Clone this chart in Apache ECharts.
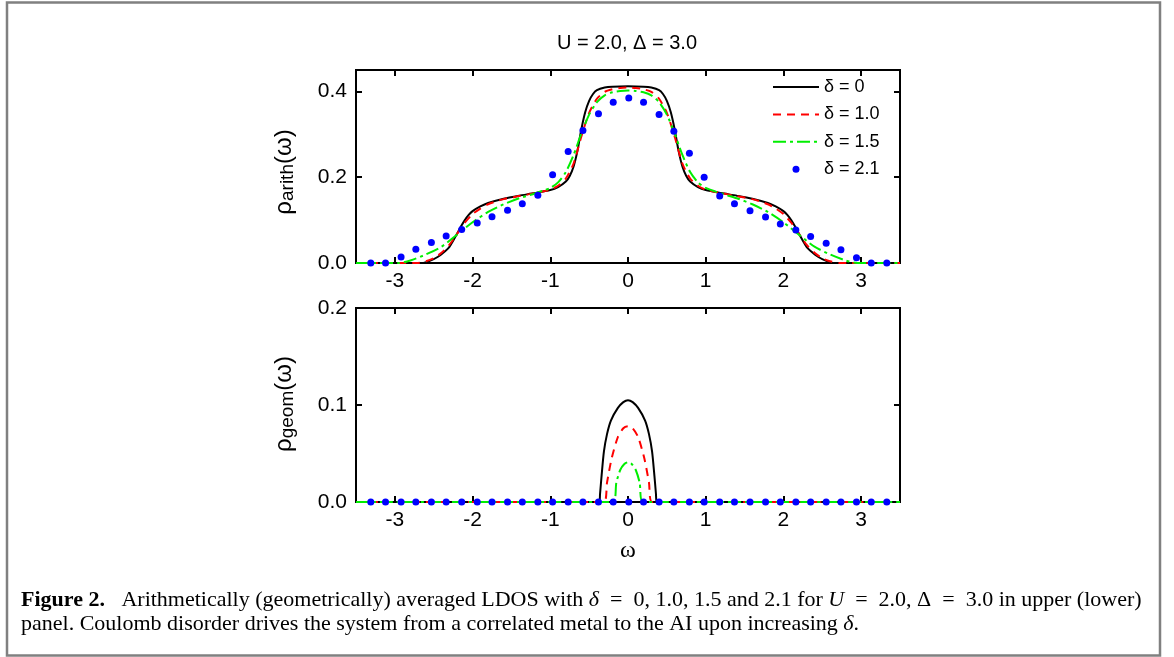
<!DOCTYPE html>
<html>
<head>
<meta charset="utf-8">
<script src="https://cdn.jsdelivr.net/npm/echarts@6/dist/echarts.min.js"></script>
<style>
html,body{margin:0;padding:0;background:#fff;}
#chart{width:1174px;height:657px;}
</style>
</head>
<body>
<div id="chart"></div>
<script>
// ---------- data ----------
const seriesNames = ['δ = 0', 'δ = 1.0', 'δ = 1.5', 'δ = 2.1'];
const xTicks = [-3, -2, -1, 0, 1, 2, 3];
const yTicksArith = [0, 0.2, 0.4];
const yTicksGeom = [0, 0.1, 0.2];

// upper panel: arithmetic average
const wArith0 = [-3.5, -2.65, -2.55, -2.45, -2.35, -2.3, -2.25, -2.2, -2.15, -2.1, -2.05, -2.0, -1.9, -1.8, -1.6, -1.4, -1.2, -1.0, -0.9, -0.8, -0.75, -0.7, -0.65, -0.6, -0.55, -0.5, -0.45, -0.4, -0.3, -0.2, 0, 0.2, 0.3, 0.4, 0.45, 0.5, 0.55, 0.6, 0.65, 0.7, 0.75, 0.8, 0.9, 1.0, 1.2, 1.4, 1.6, 1.8, 1.9, 2.0, 2.05, 2.1, 2.15, 2.2, 2.25, 2.3, 2.35, 2.45, 2.55, 2.65, 3.5];
const rArith0 = [0, 0, 0.005, 0.014, 0.028, 0.037, 0.052, 0.068, 0.085, 0.100, 0.112, 0.121, 0.132, 0.140, 0.150, 0.157, 0.163, 0.170, 0.177, 0.190, 0.203, 0.225, 0.262, 0.312, 0.352, 0.378, 0.394, 0.403, 0.409, 0.411, 0.412, 0.411, 0.409, 0.403, 0.394, 0.378, 0.352, 0.312, 0.262, 0.225, 0.203, 0.190, 0.177, 0.170, 0.163, 0.157, 0.150, 0.140, 0.132, 0.121, 0.112, 0.100, 0.085, 0.068, 0.052, 0.037, 0.028, 0.014, 0.005, 0, 0];

const wArith1 = [-3.5, -2.72, -2.6, -2.5, -2.4, -2.3, -2.2, -2.1, -2.0, -1.9, -1.8, -1.6, -1.4, -1.2, -1.0, -0.9, -0.8, -0.7, -0.6, -0.5, -0.4, -0.3, -0.2, -0.1, 0, 0.1, 0.2, 0.3, 0.4, 0.5, 0.6, 0.7, 0.8, 0.9, 1.0, 1.2, 1.4, 1.6, 1.8, 1.9, 2.0, 2.1, 2.2, 2.3, 2.4, 2.5, 2.6, 2.72, 3.5];
const rArith1 = [0, 0, 0.004, 0.011, 0.024, 0.042, 0.068, 0.094, 0.114, 0.127, 0.137, 0.149, 0.156, 0.163, 0.171, 0.180, 0.197, 0.232, 0.295, 0.350, 0.383, 0.399, 0.405, 0.408, 0.409, 0.408, 0.405, 0.399, 0.383, 0.350, 0.295, 0.232, 0.197, 0.180, 0.171, 0.163, 0.156, 0.149, 0.137, 0.127, 0.114, 0.094, 0.068, 0.042, 0.024, 0.011, 0.004, 0, 0];

const wArith2 = [-3.5, -2.95, -2.8, -2.6, -2.4, -2.2, -2.0, -1.8, -1.6, -1.4, -1.2, -1.0, -0.9, -0.8, -0.7, -0.6, -0.5, -0.4, -0.3, -0.2, -0.1, 0, 0.1, 0.2, 0.3, 0.4, 0.5, 0.6, 0.7, 0.8, 0.9, 1.0, 1.2, 1.4, 1.6, 1.8, 2.0, 2.2, 2.4, 2.6, 2.8, 2.95, 3.5];
const rArith2 = [0, 0, 0.006, 0.020, 0.038, 0.066, 0.095, 0.119, 0.137, 0.151, 0.162, 0.175, 0.188, 0.212, 0.252, 0.302, 0.346, 0.375, 0.391, 0.398, 0.401, 0.402, 0.401, 0.398, 0.391, 0.375, 0.346, 0.302, 0.252, 0.212, 0.188, 0.175, 0.162, 0.151, 0.137, 0.119, 0.095, 0.066, 0.038, 0.020, 0.006, 0, 0];

const wDots = [-3.31, -3.12, -2.92, -2.73, -2.53, -2.34, -2.14, -1.94, -1.75, -1.55, -1.36, -1.16, -0.97, -0.77, -0.58, -0.38, -0.19, 0.01, 0.2, 0.4, 0.59, 0.79, 0.98, 1.18, 1.37, 1.57, 1.77, 1.96, 2.16, 2.35, 2.55, 2.74, 2.94, 3.13, 3.33];
const rArithDots = [0, 0, 0.014, 0.032, 0.048, 0.063, 0.078, 0.093, 0.108, 0.123, 0.138, 0.158, 0.206, 0.260, 0.309, 0.348, 0.375, 0.385, 0.375, 0.346, 0.307, 0.256, 0.200, 0.156, 0.138, 0.122, 0.107, 0.091, 0.077, 0.062, 0.046, 0.031, 0.012, 0, 0];

// lower panel: geometric average
const wGeom0 = [-3.5, -0.37, -0.36, -0.34, -0.31, -0.27, -0.22, -0.13, -0.06, 0, 0.06, 0.13, 0.22, 0.27, 0.31, 0.34, 0.36, 0.37, 3.5];
const rGeom0 = [0, 0, 0.008, 0.027, 0.052, 0.070, 0.084, 0.097, 0.103, 0.105, 0.103, 0.097, 0.084, 0.070, 0.052, 0.027, 0.008, 0, 0];
const wGeom1 = [-3.5, -0.31, -0.27, -0.21, -0.13, -0.06, 0, 0.06, 0.13, 0.21, 0.27, 0.31, 3.5];
const rGeom1 = [0, 0, 0.020, 0.045, 0.067, 0.076, 0.078, 0.076, 0.067, 0.045, 0.020, 0, 0];
const wGeom2 = [-3.5, -0.19, -0.15, -0.1, -0.05, 0, 0.05, 0.1, 0.15, 0.19, 3.5];
const rGeom2 = [0, 0, 0.020, 0.033, 0.039, 0.041, 0.039, 0.033, 0.020, 0, 0];
const rGeomDots = [0, 0, 0, 0, 0, 0, 0, 0, 0, 0, 0, 0, 0, 0, 0, 0, 0, 0, 0, 0, 0, 0, 0, 0, 0, 0, 0, 0, 0, 0, 0, 0, 0, 0, 0];

// ---------- chart ----------
const zip = (xs, ys) => xs.map((x, i) => [x, ys[i]]);
const SANS = 'Liberation Sans, Arial, sans-serif';
const SERIF = 'Liberation Serif, Times New Roman, serif';
const colors = ['#000000', '#ff0000', '#00ee00', '#0000ff'];
const dashes = ['solid', [8, 6], [13, 4, 3, 4]];

const GRID_LEFT = 356, GRID_W = 544;
const grids = [
  {left: GRID_LEFT, top: 70, width: GRID_W, height: 193},
  {left: GRID_LEFT, top: 308, width: GRID_W, height: 194}
].map(g => Object.assign(g, {show: true, borderColor: '#000', borderWidth: 2, backgroundColor: 'transparent'}));

function xAx(gridIndex, position, labels) {
  return {
    type: 'value', gridIndex, position, min: -3.5, max: 3.5,
    axisLine: {show: false, onZero: false},
    splitLine: {show: false},
    axisTick: {show: true, inside: true, length: 6, customValues: xTicks, lineStyle: {color: '#000', width: 2}},
    axisLabel: {show: labels, customValues: xTicks, margin: 8, color: '#000', fontSize: 21, fontFamily: SANS,
      formatter: v => String(v)}
  };
}
function yAx(gridIndex, position, max, ticks, labels) {
  return {
    type: 'value', gridIndex, position, min: 0, max,
    axisLine: {show: false, onZero: false},
    splitLine: {show: false},
    axisTick: {show: true, inside: true, length: 6, customValues: ticks, lineStyle: {color: '#000', width: 2}},
    axisLabel: {show: labels, customValues: ticks, margin: 9, color: '#000', fontSize: 21, fontFamily: SANS,
      formatter: v => v.toFixed(1)}
  };
}

function lineSeries(name, idx, data, axisIdx) {
  return {
    name, type: 'line', data, xAxisIndex: axisIdx, yAxisIndex: axisIdx,
    symbol: 'none', smooth: 0.25, z: 2 + idx,
    lineStyle: {color: colors[idx], width: 2, type: dashes[idx]},
    itemStyle: {color: colors[idx]}
  };
}
function dotSeries(name, data, axisIdx) {
  return {
    name, type: 'scatter', data, xAxisIndex: axisIdx, yAxisIndex: axisIdx,
    symbol: 'circle', symbolSize: 7, z: 6,
    itemStyle: {color: colors[3], opacity: 1}
  };
}

const subRich = {
  a: {fontSize: 24, fontFamily: SANS, color: '#000'},
  b: {fontSize: 19, fontFamily: SANS, color: '#000', padding: [8, 0, 0, 0]}
};

const CAP = 22;
const capRich = {
  n: {fontSize: CAP, fontFamily: SERIF, color: '#000'},
  b: {fontSize: CAP, fontFamily: SERIF, color: '#000', fontWeight: 'bold'},
  i: {fontSize: CAP, fontFamily: SERIF, color: '#000', fontStyle: 'italic'}
};

const option = {
  animation: false,
  backgroundColor: '#fff',
  grid: grids,
  xAxis: [xAx(0, 'bottom', true), xAx(0, 'top', false), xAx(1, 'bottom', true), xAx(1, 'top', false)],
  yAxis: [yAx(0, 'left', 0.45, yTicksArith, true), yAx(0, 'right', 0.45, yTicksArith, false),
          yAx(1, 'left', 0.2, yTicksGeom, true), yAx(1, 'right', 0.2, yTicksGeom, false)],
  legend: {
    data: [
      {name: seriesNames[0], itemStyle: {opacity: 0}},
      {name: seriesNames[1], itemStyle: {opacity: 0}},
      {name: seriesNames[2], itemStyle: {opacity: 0}},
      {name: seriesNames[3]}
    ],
    orient: 'vertical', left: 772, top: 76, padding: 0,
    itemWidth: 46, itemHeight: 7, itemGap: 5.4,
    textStyle: {fontSize: 18, fontFamily: SANS, color: '#000', lineHeight: 22},
    selectedMode: false
  },
  series: [
    lineSeries(seriesNames[0], 0, zip(wArith0, rArith0), 0),
    lineSeries(seriesNames[1], 1, zip(wArith1, rArith1), 0),
    lineSeries(seriesNames[2], 2, zip(wArith2, rArith2), 0),
    dotSeries(seriesNames[3], zip(wDots, rArithDots), 0),
    lineSeries(seriesNames[0], 0, zip(wGeom0, rGeom0), 2),
    lineSeries(seriesNames[1], 1, zip(wGeom1, rGeom1), 2),
    lineSeries(seriesNames[2], 2, zip(wGeom2, rGeom2), 2),
    dotSeries(seriesNames[3], zip(wDots, rGeomDots), 2)
  ],
  graphic: [
    {type: 'rect', shape: {x: 7, y: 2.5, width: 1153, height: 653}, style: {fill: 'none', stroke: '#808080', lineWidth: 2.5}, silent: true},
    {type: 'text', x: 627, y: 43, style: {text: 'U = 2.0, Δ = 3.0', fontSize: 20, fontFamily: SANS, fill: '#000', align: 'center', verticalAlign: 'middle', textAlign: 'center', textVerticalAlign: 'middle'}},
    {type: 'text', x: 284, y: 172, rotation: Math.PI / 2, style: {text: '{a|ρ}{b|arith}{a|(ω)}', rich: subRich, align: 'center', verticalAlign: 'middle', textAlign: 'center', textVerticalAlign: 'middle'}},
    {type: 'text', x: 284, y: 404, rotation: Math.PI / 2, style: {text: '{a|ρ}{b|geom}{a|(ω)}', rich: subRich, align: 'center', verticalAlign: 'middle', textAlign: 'center', textVerticalAlign: 'middle'}},
    {type: 'text', x: 628, y: 551, style: {text: 'ω', fontSize: 24, fontFamily: SERIF, fill: '#000', align: 'center', verticalAlign: 'middle', textAlign: 'center', textVerticalAlign: 'middle'}},
    {type: 'text', x: 21, y: 600, style: {text: '{b|Figure 2.}{n|   Arithmetically (geometrically) averaged LDOS with }{i|δ}{n|  =  0, 1.0, 1.5 and 2.1 for }{i|U}{n|  =  2.0, Δ  =  3.0 in upper (lower)}', rich: capRich, align: 'left', verticalAlign: 'middle', textAlign: 'left', textVerticalAlign: 'middle'}},
    {type: 'text', x: 21, y: 624, style: {text: '{n|panel. Coulomb disorder drives the system from a correlated metal to the AI upon increasing }{i|δ}{n|.}', rich: capRich, align: 'left', verticalAlign: 'middle', textAlign: 'left', textVerticalAlign: 'middle'}}
  ]
};

const chart = echarts.init(document.getElementById('chart'), null, {renderer: 'canvas'});
chart.setOption(option);
</script>
</body>
</html>
